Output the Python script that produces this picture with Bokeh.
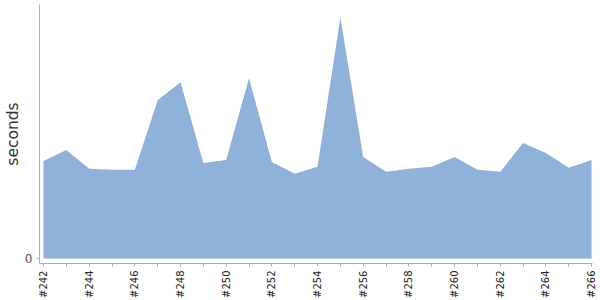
import math
from bokeh.plotting import figure
from bokeh.models import FixedTicker, Range1d
from bokeh.embed import file_html
from bokeh.resources import INLINE

builds = ["#242", "#243", "#244", "#245", "#246", "#247", "#248", "#249", "#250",
          "#251", "#252", "#253", "#254", "#255", "#256", "#257", "#258", "#259",
          "#260", "#261", "#262", "#263", "#264", "#265", "#266"]
seconds = [9.8, 10.9, 9.0, 8.9, 8.9, 15.9, 17.7, 9.6, 9.9,
           18.1, 9.7, 8.5, 9.2, 24.2, 10.2, 8.7, 9.0, 9.2,
           10.2, 8.9, 8.7, 11.6, 10.6, 9.1, 9.9]
y_ticks = [0]

xs = list(range(len(builds)))

p = figure(width=600, height=300, output_backend="svg", toolbar_location=None,
           x_range=Range1d(-0.175, len(builds) - 1 + 0.04),
           y_range=Range1d(-0.5, 25.5),
           min_border_left=39, min_border_right=8, min_border_top=4, min_border_bottom=36)
p.outline_line_color = None
p.background_fill_color = "white"
p.border_fill_color = "white"
p.grid.grid_line_color = None

p.varea(x=xs, y1=[0] * len(xs), y2=seconds, fill_color="#8fb1da", fill_alpha=1.0)

xa = p.xaxis[0]
xa.ticker = FixedTicker(ticks=[i for i in xs if i % 2 == 0], minor_ticks=[i for i in xs if i % 2 == 1])
xa.major_label_overrides = {i: builds[i] for i in xs}
xa.major_label_orientation = math.pi / 2
xa.major_label_text_font = "DejaVu Sans"
xa.major_label_text_font_size = "10px"
xa.major_label_text_color = "#222222"
xa.major_label_standoff = 4
xa.axis_line_color = "#b0b0b0"
xa.major_tick_line_color = "#b0b0b0"
xa.minor_tick_line_color = "#b0b0b0"
xa.major_tick_out = 3
xa.major_tick_in = 0
xa.minor_tick_out = 3
xa.minor_tick_in = 0

ya = p.yaxis[0]
ya.ticker = FixedTicker(ticks=y_ticks, minor_ticks=[])
ya.major_label_text_font = "DejaVu Sans"
ya.major_label_text_font_size = "12px"
ya.major_label_text_color = "#555555"
ya.major_label_standoff = 4
ya.axis_line_color = "#b0b0b0"
ya.major_tick_line_color = "#b0b0b0"
ya.major_tick_out = 3
ya.major_tick_in = 0
ya.axis_label = "seconds"
ya.axis_label_text_font = "DejaVu Sans"
ya.axis_label_text_font_size = "15.5px"
ya.axis_label_text_font_style = "normal"
ya.axis_label_text_color = "#333333"
ya.axis_label_standoff = 0

open("out.html", "w").write(file_html(p, INLINE))
